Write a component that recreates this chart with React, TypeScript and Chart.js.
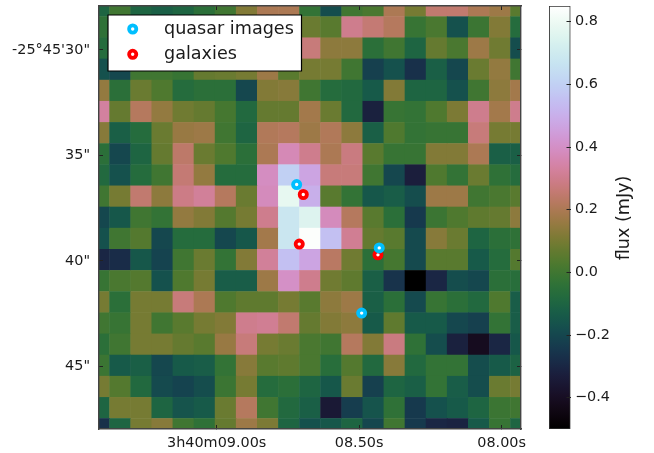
import React, { useEffect, useRef } from "react";
import { Chart, registerables } from "chart.js";

Chart.register(...registerables);

// flux (mJy) per map pixel, one row per declination step, east (left) to west (right)
const row00 = [-0.1, 0.0, -0.1, -0.12, -0.1, -0.05, 0.0, 0.12, 0.2, 0.2, -0.03, -0.18, 0.0, 0.02, 0.2, 0.1, 0.25, 0.25, 0.2, 0.17, 0.05];
const row01 = [-0.04, 0.02, -0.03, 0.04, 0.0, 0.05, -0.02, 0.1, 0.14, 0.15, 0.08, 0.05, 0.3, 0.26, 0.22, -0.02, 0.02, -0.17, -0.01, 0.12, -0.07];
const row02 = [-0.07, -0.1, 0.05, -0.02, -0.05, 0.08, 0.03, 0.02, 0.12, 0.18, 0.27, 0.14, 0.14, -0.05, 0.0, -0.1, 0.07, 0.02, 0.17, 0.09, -0.18];
const row03 = [-0.17, -0.2, 0.0, 0.0, -0.02, 0.07, 0.08, 0.1, 0.17, 0.05, 0.1, 0.1, 0.0, -0.22, -0.17, -0.27, -0.12, -0.2, 0.08, 0.15, 0.0];
const row04 = [0.15, -0.05, 0.08, 0.03, -0.07, -0.05, -0.05, -0.2, 0.12, 0.13, 0.0, -0.07, -0.08, -0.14, 0.12, -0.1, -0.1, -0.17, 0.0, 0.14, 0.18];
const row05 = [0.33, 0.07, 0.22, 0.15, 0.09, 0.07, 0.01, -0.08, 0.07, 0.07, 0.18, 0.08, -0.08, -0.32, -0.02, -0.03, 0.03, 0.11, 0.3, 0.18, 0.3];
const row06 = [0.13, -0.12, -0.07, 0.08, 0.16, 0.17, 0.0, -0.1, 0.21, 0.22, 0.17, 0.21, 0.14, -0.12, 0.03, -0.03, -0.02, -0.02, 0.27, 0.1, 0.1];
const row07 = [-0.05, -0.2, -0.1, 0.07, 0.24, 0.08, 0.03, -0.05, 0.2, 0.37, 0.3, 0.2, 0.28, 0.05, -0.02, -0.02, 0.12, 0.12, 0.2, -0.12, -0.12];
const row08 = [-0.08, -0.17, -0.07, 0.0, 0.26, 0.15, -0.07, -0.07, 0.39, 0.6, 0.47, 0.27, 0.27, 0.0, -0.2, -0.33, 0.03, -0.03, 0.08, -0.04, -0.07];
const row09 = [0.0, 0.1, 0.25, 0.14, 0.29, 0.32, 0.22, 0.08, 0.38, 0.78, 0.5, 0.05, -0.03, -0.15, -0.13, -0.18, 0.17, 0.17, 0.0, 0.02, 0.05];
const row10 = [-0.2, -0.15, 0.0, -0.03, 0.15, 0.12, 0.04, 0.1, 0.3, 0.68, 0.75, 0.38, 0.22, 0.05, -0.05, -0.24, -0.01, 0.03, 0.06, 0.07, 0.14];
const row11 = [-0.17, 0.0, 0.04, -0.2, -0.07, -0.07, -0.2, -0.15, 0.18, 0.68, 0.84, 0.55, 0.31, 0.07, 0.05, -0.19, 0.13, 0.08, -0.1, -0.05, -0.04];
const row12 = [-0.3, -0.28, -0.15, -0.21, 0.0, 0.08, -0.03, 0.12, 0.32, 0.55, 0.47, 0.23, 0.09, -0.05, 0.01, -0.19, 0.05, 0.05, -0.14, -0.07, 0.04];
const row13 = [-0.02, 0.02, 0.04, -0.17, 0.03, 0.1, -0.13, -0.13, 0.17, 0.4, 0.3, 0.09, 0.06, -0.12, -0.26, -0.5, -0.3, -0.18, -0.2, -0.05, -0.06];
const row14 = [0.1, -0.05, 0.1, 0.1, 0.27, 0.2, 0.03, 0.06, 0.06, 0.1, 0.05, 0.14, 0.17, -0.12, -0.05, -0.19, -0.02, -0.05, -0.08, 0.03, -0.13];
const row15 = [0.0, -0.02, 0.1, 0.0, 0.05, 0.1, 0.12, 0.3, 0.31, 0.25, 0.07, 0.12, 0.14, -0.14, 0.06, -0.14, -0.14, -0.2, -0.22, -0.03, -0.13];
const row16 = [-0.05, 0.0, 0.1, 0.1, 0.07, 0.05, 0.16, 0.27, 0.1, 0.08, 0.02, 0.0, 0.22, 0.12, 0.28, -0.04, -0.18, -0.32, -0.41, -0.3, -0.15];
const row17 = [-0.01, -0.14, -0.12, -0.2, -0.14, -0.13, -0.03, 0.13, 0.05, 0.06, 0.02, -0.06, 0.04, -0.08, 0.13, -0.08, -0.03, -0.03, -0.18, -0.14, -0.11];
const row18 = [0.1, 0.04, -0.08, -0.19, -0.21, -0.18, -0.01, 0.1, -0.07, -0.05, -0.1, -0.15, 0.08, -0.22, -0.1, -0.12, -0.03, -0.13, -0.18, 0.08, 0.1];
const row19 = [-0.1, 0.1, 0.1, -0.1, -0.16, -0.14, 0.08, 0.22, 0.0, -0.08, -0.12, -0.35, -0.23, -0.16, -0.04, -0.24, -0.17, -0.14, -0.1, -0.01, 0.0];
const row20 = [-0.27, -0.1, 0.1, 0.13, 0.0, -0.04, 0.07, 0.17, 0.11, -0.1, -0.17, -0.15, -0.1, -0.2, 0.0, -0.24, -0.3, -0.31, -0.14, -0.02, -0.1];
const fluxRows = [row00, row01, row02, row03, row04, row05, row06, row07, row08, row09, row10, row11, row12, row13, row14, row15, row16, row17, row18, row19, row20];

// seconds of right ascension (after 3h40m) and arcseconds of declination (after -25°45')
const quasarRa = [8.7193, 8.4295, 8.4912];
const quasarDec = [36.38, 39.38, 42.47];
const galaxyRa = [8.6961, 8.7102, 8.434];
const galaxyDec = [36.85, 39.2, 39.71];

const raTicks = [9.0, 8.5, 8.0];
const raTickLabels = ["3h40m09.00s", "08.50s", "08.00s"];
const decTicks = [30, 35, 40, 45];
const decTickLabels = ["-25°45'30\"", "35\"", "40\"", "45\""];
const fluxTicks = [-0.4, -0.2, 0.0, 0.2, 0.4, 0.6, 0.8];

const RA_MAX = 9.413;
const RA_MIN = 7.932;
const DEC_MIN = 27.92;
const DEC_MAX = 47.96;
const RA_STEP = (RA_MAX - RA_MIN) / 20;
const DEC_STEP = (DEC_MAX - DEC_MIN) / 20;
const FLUX_MIN = -0.5;
const FLUX_MAX = 0.85;

const FONT = "'DejaVu Sans'";
const INK = "#1a1a1a";

function cubehelix(t: number): string {
  const amp = (t * (1 - t)) / 2;
  const phi = 2 * Math.PI * (0.5 / 3 + 1 - 1.5 * t);
  const c = Math.cos(phi);
  const s = Math.sin(phi);
  const r = t + amp * (-0.14861 * c + 1.78277 * s);
  const g = t + amp * (-0.29227 * c - 0.90649 * s);
  const b = t + amp * (1.97294 * c);
  const u = (v: number) => Math.round(255 * Math.min(1, Math.max(0, v)));
  return `rgb(${u(r)},${u(g)},${u(b)})`;
}
const fluxColor = (v: number) => cubehelix((v - FLUX_MIN) / (FLUX_MAX - FLUX_MIN));

const cells = fluxRows.flatMap((row, r) =>
  row.map((v, c) => ({ x: RA_MAX - c * RA_STEP, y: DEC_MIN + r * DEC_STEP, v }))
);

const tickGrid = {
  drawOnChartArea: false,
  drawTicks: true,
  tickLength: -4,
  color: "#222",
  lineWidth: 1,
  z: 2,
};
const axisBorder = { display: true, color: "#444", width: 1.4, z: 3 };

const fixSize = (width: number | null, height: number | null) => (s: any) => {
  if (width !== null) s.width = width;
  if (height !== null) s.height = height;
  s.paddingLeft = 0;
  s.paddingRight = 0;
  s.paddingTop = 0;
  s.paddingBottom = 0;
  if (s._margins) {
    s._margins.left = 0;
    s._margins.right = 0;
    s._margins.top = 0;
    s._margins.bottom = 0;
  }
};

const legendPlugin = {
  id: "innerLegend",
  afterDraw(chart: any) {
    const ctx = chart.ctx;
    ctx.save();
    ctx.fillStyle = "#fff";
    ctx.strokeStyle = "#000";
    ctx.lineWidth = 1.2;
    ctx.beginPath();
    ctx.rect(108, 15, 193.5, 56);
    ctx.fill();
    ctx.stroke();
    const entries = chart.data.datasets.filter((d: any) => d.inLegend);
    entries.forEach((d: any, i: number) => {
      const y = 29 + i * 25.3;
      ctx.beginPath();
      ctx.arc(132.7, y, d.pointRadius, 0, Math.PI * 2);
      ctx.fillStyle = d.pointBackgroundColor;
      ctx.strokeStyle = d.pointBorderColor;
      ctx.lineWidth = d.pointBorderWidth;
      ctx.fill();
      ctx.stroke();
      ctx.fillStyle = INK;
      ctx.font = `17.6px ${FONT}`;
      ctx.textAlign = "left";
      ctx.textBaseline = "middle";
      ctx.fillText(d.label, 164, y);
    });
    ctx.restore();
  },
};

const colorbarTitlePlugin = {
  id: "colorbarTitle",
  afterDraw(chart: any) {
    const ctx = chart.ctx;
    ctx.save();
    ctx.translate(104, 218);
    ctx.rotate(-Math.PI / 2);
    ctx.fillStyle = INK;
    ctx.font = `17.6px ${FONT}`;
    ctx.textAlign = "center";
    ctx.textBaseline = "middle";
    ctx.fillText("flux (mJy)", 0, 0);
    ctx.restore();
  },
};

export default function App() {
  const mapRef = useRef<HTMLCanvasElement>(null);
  const barRef = useRef<HTMLCanvasElement>(null);

  useEffect(() => {
    const setTicks = (values: number[]) => (scale: any) => {
      scale.ticks = values.map((value) => ({ value }));
    };
    const marker = (label: string, color: string, ra: number[], dec: number[]) => ({
      label,
      inLegend: true,
      data: ra.map((x, i) => ({ x, y: dec[i] })),
      pointStyle: "circle",
      pointRadius: 3.6,
      pointBorderWidth: 3.8,
      pointBackgroundColor: "#fff",
      pointBorderColor: color,
      order: 0,
    });

    const map = new Chart(mapRef.current as HTMLCanvasElement, {
      type: "scatter",
      data: {
        datasets: [
          marker("quasar images", "#00bfff", quasarRa, quasarDec),
          marker("galaxies", "#ff0000", galaxyRa, galaxyDec),
          {
            label: "flux",
            data: cells,
            pointStyle: "rect",
            pointRadius: 15.3,
            pointBorderWidth: 0,
            pointBackgroundColor: cells.map((c) => fluxColor(c.v)),
            order: 5,
          },
        ] as any,
      },
      options: {
        animation: false,
        responsive: false,
        events: [],
        layout: { autoPadding: false, padding: { top: 6, right: 133, left: 0, bottom: 0 } },
        plugins: { legend: { display: false }, tooltip: { enabled: false } },
        scales: {
          x: {
            type: "linear",
            position: "bottom",
            reverse: true,
            min: RA_MIN,
            max: RA_MAX,
            afterBuildTicks: setTicks(raTicks),
            afterFit: fixSize(null, 24),
            grid: tickGrid,
            border: axisBorder,
            ticks: {
              autoSkip: false,
              maxRotation: 0,
              padding: 10,
              color: INK,
              font: { family: FONT, size: 14.4 },
              callback: (v: any) => raTickLabels[raTicks.indexOf(v)],
            },
          },
          x2: {
            type: "linear",
            axis: "x",
            position: "top",
            reverse: true,
            min: RA_MIN,
            max: RA_MAX,
            afterBuildTicks: setTicks(raTicks),
            afterFit: fixSize(null, 0),
            grid: tickGrid,
            border: axisBorder,
            ticks: { display: false },
          },
          y: {
            type: "linear",
            position: "left",
            reverse: true,
            min: DEC_MIN,
            max: DEC_MAX,
            afterBuildTicks: setTicks(decTicks),
            afterFit: fixSize(99, null),
            grid: tickGrid,
            border: axisBorder,
            ticks: {
              autoSkip: false,
              padding: 13,
              color: INK,
              font: { family: FONT, size: 14.4 },
              callback: (v: any) => decTickLabels[decTicks.indexOf(v)],
            },
          },
          y2: {
            type: "linear",
            axis: "y",
            position: "right",
            reverse: true,
            min: DEC_MIN,
            max: DEC_MAX,
            afterBuildTicks: setTicks(decTicks),
            afterFit: fixSize(0, null),
            grid: tickGrid,
            border: axisBorder,
            ticks: { display: false },
          },
        },
      } as any,
      plugins: [legendPlugin],
    });

    const bar = new Chart(barRef.current as HTMLCanvasElement, {
      type: "bar",
      data: {
        labels: ["flux"],
        datasets: [
          {
            label: "flux (mJy)",
            data: [[FLUX_MIN, FLUX_MAX]],
            barPercentage: 1,
            categoryPercentage: 1,
            borderSkipped: false,
            borderWidth: 1.2,
            borderColor: "#333",
            backgroundColor: (ctx: any) => {
              const area = ctx.chart.chartArea;
              if (!area) return "#000";
              const g = ctx.chart.ctx.createLinearGradient(0, area.bottom, 0, area.top);
              for (let i = 0; i <= 64; i++) g.addColorStop(i / 64, cubehelix(i / 64));
              return g;
            },
          },
        ] as any,
      },
      options: {
        animation: false,
        responsive: false,
        events: [],
        layout: { autoPadding: false, padding: { top: 6, left: 29, right: 0, bottom: 24 } },
        plugins: { legend: { display: false }, tooltip: { enabled: false } },
        scales: {
          x: { display: false },
          y: {
            type: "linear",
            position: "right",
            min: FLUX_MIN,
            max: FLUX_MAX,
            afterBuildTicks: setTicks(fluxTicks),
            afterFit: (s: any) => {
              fixSize(83.5, null)(s);
              // left-align the tick labels, as the reference does
              s._getYAxisLabelAlignment = () => ({ textAlign: "left", x: s.left + 4.5 });
            },
            grid: { ...tickGrid, tickLength: -4 },
            border: { display: false },
            ticks: {
              autoSkip: false,
              padding: 8,
              color: INK,
              font: { family: FONT, size: 14.4 },
              callback: (v: any) => {
                const n = Number(v);
                return (n < 0 ? "\u2212" : "") + Math.abs(n).toFixed(1);
              },
            },
          },
        },
      } as any,
      plugins: [colorbarTitlePlugin],
    });

    return () => {
      map.destroy();
      bar.destroy();
    };
  }, []);

  return (
    <div style={{ position: "absolute", left: 0, top: 0, width: 654, height: 453, background: "#fff", overflow: "hidden" }}>
      <canvas ref={mapRef} width={654} height={453} style={{ position: "absolute", left: 0, top: 0, width: 654, height: 453 }} />
      <canvas ref={barRef} width={134} height={453} style={{ position: "absolute", left: 520, top: 0, width: 134, height: 453 }} />
    </div>
  );
}
